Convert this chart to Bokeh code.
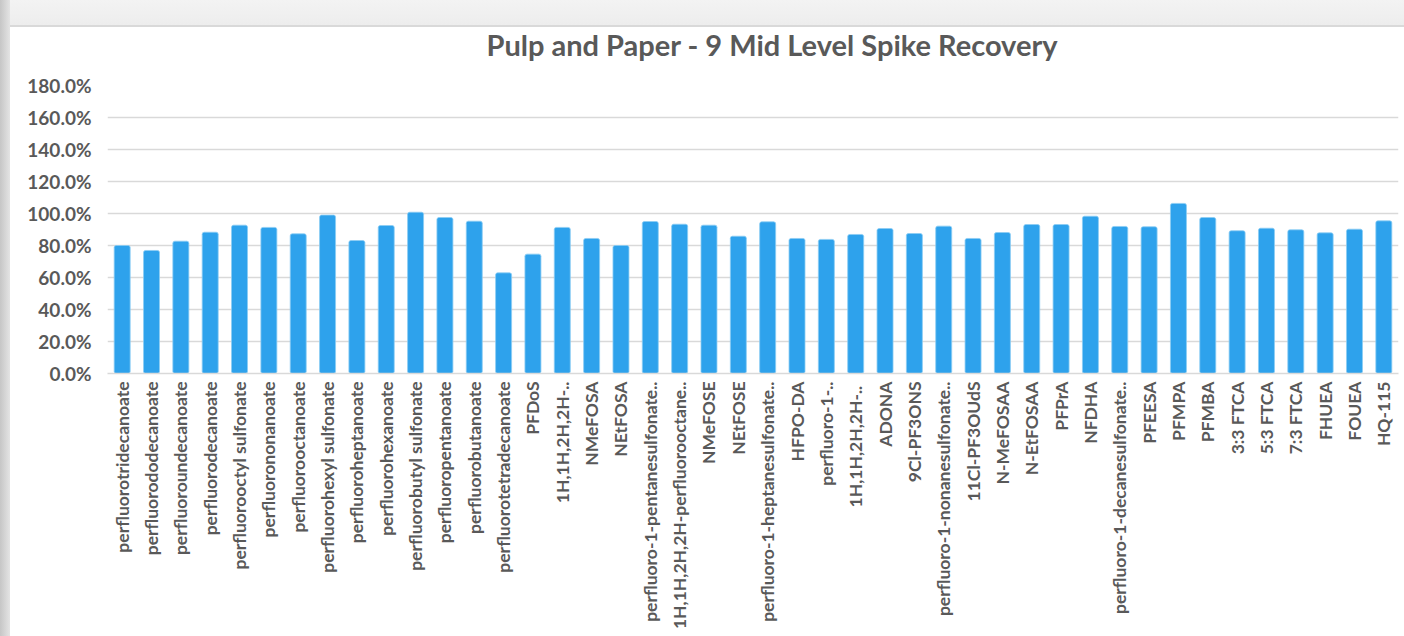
import math
from bokeh.plotting import figure
from bokeh.models import ColumnDataSource, FactorRange, Range1d, FixedTicker, NumeralTickFormatter
from bokeh.embed import file_html
from bokeh.resources import INLINE

categories = [
    "perfluorotridecanoate", "perfluorododecanoate", "perfluoroundecanoate", "perfluorodecanoate",
    "perfluorooctyl sulfonate", "perfluorononanoate", "perfluorooctanoate", "perfluorohexyl sulfonate",
    "perfluoroheptanoate", "perfluorohexanoate", "perfluorobutyl sulfonate", "perfluoropentanoate",
    "perfluorobutanoate", "perfluorotetradecanoate", "PFDoS", "1H,1H,2H,2H-..",
    "NMeFOSA", "NEtFOSA", "perfluoro-1-pentanesulfonate..", "1H,1H,2H,2H-perfluorooctane..",
    "NMeFOSE", "NEtFOSE", "perfluoro-1-heptanesulfonate..", "HFPO-DA",
    "perfluoro-1-..", "1H,1H,2H,2H-.. ", "ADONA", "9Cl-PF3ONS",
    "perfluoro-1-nonanesulfonate..", "11Cl-PF3OUdS", "N-MeFOSAA", "N-EtFOSAA",
    "PFPrA", "NFDHA", "perfluoro-1-decanesulfonate..", "PFEESA",
    "PFMPA", "PFMBA", "3:3 FTCA", "5:3 FTCA",
    "7:3 FTCA", "FHUEA", "FOUEA", "HQ-115",
]

recovery_pct = [
    80.0, 76.9, 82.7, 88.3, 92.7, 91.3, 87.3, 99.0,
    83.1, 92.5, 100.8, 97.5, 95.2, 62.9, 74.6, 91.3,
    84.4, 80.0, 95.0, 93.3, 92.7, 85.8, 94.8, 84.4,
    83.8, 86.9, 90.6, 87.5, 92.1, 84.4, 88.1, 93.1,
    93.1, 98.3, 91.9, 91.7, 106.3, 97.5, 89.2, 90.8,
    89.8, 87.9, 90.2, 95.4,
]

y_ticks = [0.0, 0.2, 0.4, 0.6, 0.8, 1.0, 1.2, 1.4, 1.6, 1.8]

source = ColumnDataSource(data=dict(cat=categories, val=[v / 100.0 for v in recovery_pct]))

TEXT = "#595959"
FONT = "Lato"

p = figure(
    width=1394, height=635,
    x_range=FactorRange(*categories, range_padding=0),
    y_range=Range1d(0, 1.8),
    output_backend="svg", toolbar_location=None,
    title="Pulp and Paper - 9 Mid Level Spike Recovery",
    min_border_left=97, min_border_right=6, min_border_top=84, min_border_bottom=263,
)
p.margin = (1, 0, 0, 10)

p.vbar(x="cat", top="val", width=0.545, source=source,
       fill_color="#2EA2EC", line_color="#8CCDF4", line_width=0.8, border_radius=2)

p.title.align = "left"
p.title.text_font = FONT
p.title.text_font_style = "bold"
p.title.text_font_size = "29px"
p.title.text_color = TEXT
p.title.offset = 379
p.title.standoff = 47

p.yaxis.ticker = FixedTicker(ticks=y_ticks)
p.yaxis.formatter = NumeralTickFormatter(format="0.0%")
p.yaxis.axis_line_color = None
p.yaxis.major_tick_line_color = None
p.yaxis.minor_tick_line_color = None
p.yaxis.major_tick_out = 0
p.yaxis.major_label_standoff = 16
p.yaxis.major_label_text_font = FONT
p.yaxis.major_label_text_font_style = "bold"
p.yaxis.major_label_text_font_size = "19px"
p.yaxis.major_label_text_color = TEXT

p.xaxis.axis_line_color = "#D9D9D9"
p.xaxis.axis_line_width = 1.5
p.xaxis.major_tick_line_color = None
p.xaxis.minor_tick_line_color = None
p.xaxis.major_tick_out = 0
p.xaxis.major_label_standoff = 8
p.xaxis.major_label_orientation = math.pi / 2
p.xaxis.major_label_text_font = FONT
p.xaxis.major_label_text_font_style = "bold"
p.xaxis.major_label_text_font_size = "17.5px"
p.xaxis.major_label_text_color = TEXT

p.xgrid.grid_line_color = None
p.ygrid.grid_line_color = "#D9D9D9"
p.ygrid.grid_line_width = 1.3
p.outline_line_color = None
p.background_fill_color = "white"
p.border_fill_color = None

html = file_html(p, INLINE)
html = html.replace(
    "<head>",
    "<head><style>html,body{margin:0;padding:0;min-height:100%;height:100%;"
    "background:linear-gradient(to right,#c6c6c6 0px,#e4e4e4 10px,rgba(255,255,255,0) 10px),"
    "linear-gradient(to bottom,#f3f3f3 0px,#ededed 25px,#d9d9d9 25px,#d9d9d9 27px,#ffffff 27px);}</style>",
    1,
)
open("out.html", "w").write(html)
